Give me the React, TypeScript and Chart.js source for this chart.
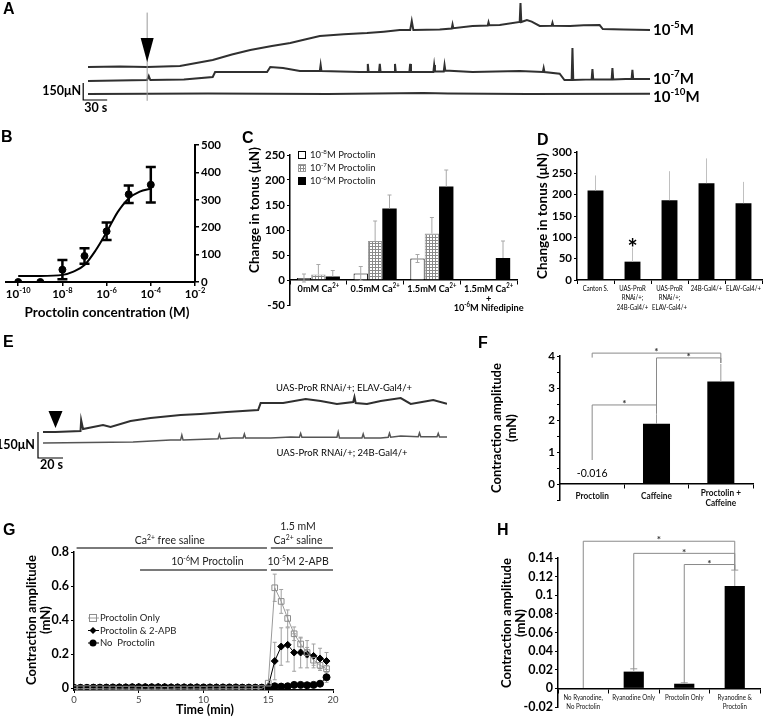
import React, { useEffect, useRef } from 'react';
import { Chart, registerables } from 'chart.js';

Chart.register(...registerables);

const FONT = 'Lato, "Open Sans", "DejaVu Sans", sans-serif';

/* ---------- Panel A: tonus traces (time in s, tonus change in μN) ---------- */
const A_T5 = [0, 40, 74, 115, 156, 180, 203, 230, 253, 270, 290, 320, 349, 370, 390, 403, 405, 407, 440, 455, 456, 457, 481, 500, 501, 502, 515, 540, 541, 542, 549, 555, 565, 580, 581, 582, 603, 620, 640, 644, 670, 703];
const A_V5 = [0, 4, 0, 9, 62, 110, 150, 185, 212, 240, 273, 290, 300, 312, 326, 326, 406, 326, 331, 340, 375, 342, 362, 366, 395, 368, 370, 397, 564, 397, 415, 400, 362, 364, 390, 364, 362, 368, 370, 335, 330, 326];
const A_T7 = [0, 74, 76, 78, 120, 156, 159, 224, 228, 244, 265, 290, 291, 292, 340, 349, 350, 351, 364, 365, 366, 383, 384, 385, 402, 403, 404, 431, 432, 433, 434, 445, 446, 447, 481, 510, 540, 569, 570, 571, 590, 596, 605, 606, 607, 630, 631, 632, 655, 656, 657, 680, 681, 682, 703];
const A_V7 = [-4, 4, 40, 4, 10, 31, 75, 75, 119, 110, 84, 84, 137, 84, 75, 75, 146, 75, 75, 146, 75, 75, 146, 75, 75, 146, 75, 75, 75, 137, 80, 80, 137, 88, 75, 80, 84, 75, 110, 75, 60, 4, 4, 287, 4, 10, 100, 10, 10, 110, 10, 15, 95, 13, 13];
const A_T10 = [0, 150, 300, 420, 450, 550, 703];
const A_V10 = [0, 4, 0, 10, 5, 0, 2];
const A_LABELS = ['10^{-5}M', '10^{-7}M', '10^{-10}M'];
const A_ARROW_T = 74;

/* ---------- Panel B: dose response ---------- */
const B_CONC = [1e-10, 1e-9, 1e-8, 1e-7, 1e-6, 1e-5, 1e-4];
const B_TONUS = [0, 0, 45, 95, 185, 320, 355];
const B_SEM = [0, 0, 35, 28, 32, 32, 65];
const B_FIT_LOGC = [-10, -9, -8, -7.5, -7, -6.5, -6, -5.5, -5, -4.5, -4];
const B_FIT = [22, 22, 26, 38, 62, 115, 182, 255, 305, 330, 340];
const B_XTICKS = [1e-10, 1e-8, 1e-6, 1e-4, 1e-2];
const B_XTICK_LABELS = ['10^{-10}', '10^{-8}', '10^{-6}', '10^{-4}', '10^{-2}'];

/* ---------- Panel C ---------- */
const C_GROUPS = [['0mM Ca^{2+}'], ['0.5mM Ca^{2+}'], ['1.5mM Ca^{2+}'], ['1.5mM Ca^{2+}', '+', '10^{-6}M Nifedipine']];
const C_SERIES = ['10^{-8}M Proctolin', '10^{-7}M Proctolin', '10^{-6}M Proctolin'];
const C_P8 = [4, 13, 43, null];
const C_P8_ERR = [8, 14, 8, 0];
const C_P7 = [11, 78, 93, null];
const C_P7_ERR = [20, 40, 32, 0];
const C_P6 = [7, 143, 187, 44];
const C_P6_ERR = [12, 27, 33, 34];

/* ---------- Panel D ---------- */
const D_GENOTYPES = [['Canton S.'], ['UAS-ProR', 'RNAi/+;', '24B-Gal4/+'], ['UAS-ProR', 'RNAi/+;', 'ELAV-Gal4/+'], ['24B-Gal4/+'], ['ELAV-Gal4/+']];
const D_TONUS = [210, 43, 187, 227, 180];
const D_SEM = [35, 33, 68, 58, 50];
const D_SIGNIF = [false, true, false, false, false];

/* ---------- Panel E: traces ---------- */
const E_T_ELAV = [0, 10, 30, 30.5, 32, 48, 54, 70, 86, 110, 126, 147, 172, 174, 192, 210, 222, 235, 248, 249, 250, 259, 270, 286, 294, 303, 312, 323];
const E_V_ELAV = [0, 0, 6, 69, 17, 40, 29, 63, 81, 98, 104, 115, 127, 167, 167, 190, 179, 162, 173, 202, 167, 162, 179, 196, 162, 173, 185, 162];
const E_T_24B = [0, 72, 102, 110, 111, 112, 140, 141, 142, 152, 160, 161, 162, 182, 198, 205, 206, 207, 235, 236, 237, 255, 256, 257, 270, 276, 277, 278, 286, 300, 301, 302, 315, 316, 317, 323];
const E_V_24B = [0, 6, 17, 17, 46, 17, 25, 50, 25, 29, 29, 52, 29, 29, 35, 33, 55, 33, 33, 63, 29, 29, 52, 29, 29, 33, 56, 33, 40, 36, 58, 36, 36, 55, 35, 35];
const E_LABELS = ['UAS-ProR RNAi/+; ELAV-Gal4/+', 'UAS-ProR RNAi/+; 24B-Gal4/+'];
const E_ARROW_T = 10;

/* ---------- Panel F ---------- */
const F_CONDS = [['Proctolin'], ['Caffeine'], ['Proctolin +', 'Caffeine']];
const F_AMP = [-0.016, 1.88, 3.2];
const F_SEM = [0, 0.3, 0.55];
const F_YTICKS = [-0.5, 0, 0.5, 1, 1.5, 2, 2.5, 3, 3.5, 4];
const F_BRACKETS = [
  { a: 0, b: 2, y: 4.09, ya: 3.95, yb: 3.78 },
  { a: 1, b: 2, y: 3.94, ya: 2.2, yb: 3.78 },
  { a: 0, b: 1, y: 2.47, ya: 0.75, yb: 2.2 },
];

/* ---------- Panel G ---------- */
const G_TIME = [0, 0.5, 1, 1.5, 2, 2.5, 3, 3.5, 4, 4.5, 5, 5.5, 6, 6.5, 7, 7.5, 8, 8.5, 9, 9.5, 10, 10.5, 11, 11.5, 12, 12.5, 13, 13.5, 14, 14.5, 15, 15.5, 16, 16.5, 17, 17.5, 18, 18.5, 19, 19.5];
const G_PROC_ONLY = [-0.002, -0.003, -0.002, -0.003, -0.003, -0.004, -0.004, -0.005, -0.005, -0.004, -0.005, -0.006, -0.005, -0.005, -0.006, -0.005, -0.004, -0.004, -0.005, -0.004, -0.005, -0.004, -0.004, -0.003, -0.004, -0.003, -0.003, -0.003, -0.002, -0.002, 0.03, 0.59, 0.51, 0.41, 0.32, 0.26, 0.21, 0.165, 0.135, 0.115];
const G_PROC_2APB = [0.003, 0.003, 0.004, 0.004, 0.004, 0.005, 0.005, 0.006, 0.006, 0.006, 0.007, 0.007, 0.006, 0.007, 0.007, 0.006, 0.006, 0.006, 0.006, 0.006, 0.005, 0.005, 0.006, 0.005, 0.005, 0.005, 0.004, 0.004, 0.004, 0.004, 0.012, 0.16, 0.245, 0.255, 0.21, 0.21, 0.2, 0.19, 0.175, 0.16];
const G_NO_PROC = [0.003, 0.003, 0.003, 0.004, 0.004, 0.004, 0.005, 0.005, 0.005, 0.006, 0.006, 0.006, 0.006, 0.006, 0.006, 0.005, 0.005, 0.005, 0.005, 0.005, 0.005, 0.005, 0.004, 0.005, 0.005, 0.005, 0.004, 0.004, 0.004, 0.004, 0.004, 0.012, 0.01, 0.012, 0.02, 0.02, 0.018, 0.02, 0.027, 0.065];
const G_PROC_ONLY_ERR = [0, 0.08, 0.07, 0.05, 0.04, 0.035, 0.03, 0.03, 0.03, 0.02];
const G_PROC_2APB_ERR = [0, 0.11, 0.11, 0.1, 0.11, 0.09, 0.08, 0.07, 0.06, 0.05];
const G_NO_PROC_ERR = [0, 0, 0, 0, 0, 0, 0, 0, 0, 0.03];
const G_SERIES = ['Proctolin Only', 'Proctolin & 2-APB', 'No  Proctolin'];
const G_YTICKS = [0, 0.2, 0.4, 0.6, 0.8];

/* ---------- Panel H ---------- */
const H_CONDS = [['No Ryanodine,', 'No Proctolin'], ['Ryanodine Only'], ['Proctolin Only'], ['Ryanodine &', 'Proctolin']];
const H_AMP = [0, 0.018, 0.005, 0.11];
const H_SEM = [0, 0.003, 0.001, 0.017];
const H_YTICKS = [-0.02, 0, 0.02, 0.04, 0.06, 0.08, 0.1, 0.12, 0.14];
const H_BRACKETS = [
  { a: 0, b: 3, y: 0.158, ya: 0.0005, yb: 0.127 },
  { a: 1, b: 3, y: 0.145, ya: 0.021, yb: 0.127 },
  { a: 2, b: 3, y: 0.133, ya: 0.006, yb: 0.127 },
];

/* ---------- text helpers ---------- */
type Seg = { t: string; sup: boolean };
function parseRich(s: string): Seg[] {
  const out: Seg[] = [];
  const re = /\^\{([^}]*)\}/g;
  let last = 0;
  let m: RegExpExecArray | null;
  while ((m = re.exec(s))) {
    if (m.index > last) out.push({ t: s.slice(last, m.index), sup: false });
    out.push({ t: m[1], sup: true });
    last = re.lastIndex;
  }
  if (last < s.length) out.push({ t: s.slice(last), sup: false });
  return out;
}
function drawText(ctx: any, s: string, x: number, y: number, size: number, weight = 'normal', align = 'left', color = '#000', cond = 1) {
  const segs = parseRich(s);
  const ss = Math.round(size * 0.65 * 10) / 10;
  ctx.save();
  let w = 0;
  for (const g of segs) {
    ctx.font = `${weight} ${g.sup ? ss : size}px ${FONT}`;
    w += ctx.measureText(g.t).width * cond;
  }
  let cx = align === 'center' ? x - w / 2 : align === 'right' ? x - w : x;
  ctx.fillStyle = color;
  ctx.textAlign = 'left';
  ctx.textBaseline = 'middle';
  for (const g of segs) {
    ctx.font = `${weight} ${g.sup ? ss : size}px ${FONT}`;
    ctx.save();
    ctx.translate(cx, g.sup ? y - size * 0.33 : y);
    ctx.scale(cond, 1);
    ctx.fillText(g.t, 0, 0);
    ctx.restore();
    cx += ctx.measureText(g.t).width * cond;
  }
  ctx.restore();
}
function drawLines(ctx: any, lines: string[], x: number, y: number, lh: number, size: number, weight = 'normal', color = '#000', cond = 1) {
  lines.forEach((l, i) => drawText(ctx, l, x, y + i * lh, size, weight, 'center', color, cond));
}
function drawRot(ctx: any, s: string, x: number, y: number, size: number, weight = 'bold') {
  ctx.save();
  ctx.translate(x, y);
  ctx.rotate(-Math.PI / 2);
  drawText(ctx, s, 0, 0, size, weight, 'center');
  ctx.restore();
}
function seg(ctx: any, x0: number, y0: number, x1: number, y1: number) {
  ctx.beginPath();
  ctx.moveTo(x0, y0);
  ctx.lineTo(x1, y1);
  ctx.stroke();
}

/* ---------- error bar plugin ---------- */
function drawErr(chart: any, behind: boolean) {
  const ctx = chart.ctx;
  chart.data.datasets.forEach((ds: any, i: number) => {
    if (!ds.err || !!ds.errBehind !== behind) return;
    const meta = chart.getDatasetMeta(i);
    const ys = chart.scales[meta.yAxisID];
    ctx.save();
    ctx.strokeStyle = ds.errColor || '#000';
    ctx.lineWidth = ds.errWidth || 1;
    meta.data.forEach((el: any, j: number) => {
      const raw = ds.data[j];
      const v = raw == null ? null : typeof raw === 'number' ? raw : raw.y;
      const e = ds.err[j];
      if (v == null || !e) return;
      const x = el.x;
      const yt = ys.getPixelForValue(v + e);
      const yb = ys.getPixelForValue(ds.errBoth ? v - e : v);
      const c = (ds.errCap || 0) / 2;
      ctx.beginPath();
      ctx.moveTo(x, yt);
      ctx.lineTo(x, yb);
      if (c) {
        ctx.moveTo(x - c, yt);
        ctx.lineTo(x + c, yt);
        if (ds.errBoth) {
          ctx.moveTo(x - c, yb);
          ctx.lineTo(x + c, yb);
        }
      }
      ctx.stroke();
    });
    ctx.restore();
  });
}
const errPlugin = {
  id: 'errbars',
  beforeDatasetsDraw(chart: any) { drawErr(chart, true); },
  afterDatasetsDraw(chart: any) { drawErr(chart, false); },
};

function drawBrackets(chart: any, list: any[], starSize: number) {
  const { ctx } = chart;
  const xs = chart.scales.x;
  const ys = chart.scales.y;
  ctx.save();
  ctx.strokeStyle = '#8a8a8a';
  ctx.lineWidth = 1;
  list.forEach((b) => {
    const xa = xs.getPixelForValue(b.a);
    const xb = xs.getPixelForValue(b.b);
    const y = ys.getPixelForValue(b.y);
    ctx.beginPath();
    ctx.moveTo(xa, ys.getPixelForValue(b.ya));
    ctx.lineTo(xa, y);
    ctx.lineTo(xb, y);
    ctx.lineTo(xb, ys.getPixelForValue(b.yb));
    ctx.stroke();
    drawText(ctx, '*', (xa + xb) / 2, y - 1, starSize, 'bold', 'center', '#333');
  });
  ctx.restore();
}

/* ---------- shared option pieces ---------- */
const base = {
  responsive: false,
  animation: false,
  devicePixelRatio: 1,
  events: [],
  plugins: { legend: { display: false }, tooltip: { enabled: false }, colors: { enabled: false } },
};
const tickFont = (size: number, weight = 'bold') => ({ family: FONT, size, weight });
const yAxis = (min: number, max: number, step: number, width: number, size = 11, extra: any = {}) => ({
  min,
  max,
  ticks: { stepSize: step, color: '#000', font: tickFont(size), padding: 2, autoSkip: false, ...(extra.ticks || {}) },
  grid: { display: true, drawOnChartArea: false, drawTicks: true, tickLength: 3, color: '#000', lineWidth: 1 },
  border: { display: true, color: '#000', width: 1.5 },
  afterFit: (s: any) => { s.width = width; },
  ...(extra.rest || {}),
});
const catAxis = (extra: any = {}) => ({
  ticks: { display: false },
  grid: { display: true, drawOnChartArea: false, drawTicks: true, tickLength: 4, color: '#000', lineWidth: 1, offset: true },
  border: { display: true, color: '#000', width: 1.5 },
  ...extra,
});
const pts = (ts: number[], vs: number[], off = 0) => ts.map((t, i) => ({ x: t, y: vs[i] + off }));

/* ---------- chart configs ---------- */
const A_OFF = [379, 260, 141];
function makeA() {
  const deco = {
    id: 'decoA',
    afterDraw(chart: any) {
      const { ctx } = chart;
      const xs = chart.scales.x;
      const ys = chart.scales.y;
      const ax = xs.getPixelForValue(A_ARROW_T);
      ctx.save();
      ctx.strokeStyle = '#9a9a9a';
      ctx.lineWidth = 1;
      seg(ctx, ax, ys.getPixelForValue(A_OFF[0] + 480), ax, ys.getPixelForValue(A_OFF[2] - 60));
      const tip = ys.getPixelForValue(A_OFF[0]) - 5;
      ctx.fillStyle = '#000';
      ctx.beginPath();
      ctx.moveTo(ax - 6.5, tip - 24);
      ctx.lineTo(ax + 6.5, tip - 24);
      ctx.lineTo(ax, tip);
      ctx.closePath();
      ctx.fill();
      // scale bar 150 μN / 30 s
      const sx0 = xs.getPixelForValue(-6);
      const sx1 = xs.getPixelForValue(24);
      const sy0 = ys.getPixelForValue(88);
      const sy1 = ys.getPixelForValue(88 + 150);
      ctx.strokeStyle = '#000';
      ctx.lineWidth = 1.2;
      ctx.beginPath();
      ctx.moveTo(sx0, sy1);
      ctx.lineTo(sx0, sy0);
      ctx.lineTo(sx1, sy0);
      ctx.stroke();
      drawText(ctx, '150μN', sx0 - 2, (sy0 + sy1) / 2 - 1, 12.5, 'bold', 'right');
      drawText(ctx, '30 s', sx0 + 1, sy0 + 8, 12.5, 'bold', 'left');
      const ends = [A_V5[A_V5.length - 1] + A_OFF[0], A_V7[A_V7.length - 1] + A_OFF[1], A_V10[A_V10.length - 1] + A_OFF[2]];
      const dy = [0, 0, 3];
      A_LABELS.forEach((l, i) => drawText(ctx, l, chart.chartArea.right + 3, ys.getPixelForValue(ends[i]) + dy[i], 15, 'bold', 'left'));
      ctx.restore();
    },
  };
  const line = { pointRadius: 0, borderColor: '#303030', borderWidth: 2, tension: 0 };
  return {
    type: 'line',
    data: {
      datasets: [
        { data: pts(A_T5, A_V5, A_OFF[0]), ...line },
        { data: pts(A_T7, A_V7, A_OFF[1]), ...line },
        { data: pts(A_T10, A_V10, A_OFF[2]), ...line },
      ],
    },
    options: {
      ...base,
      layout: { padding: { left: 88, right: 113, top: 0, bottom: 5 } },
      scales: { x: { type: 'linear', display: false, min: 0, max: 703 }, y: { display: false, min: 0, max: 970 } },
    },
    plugins: [deco],
  };
}

function makeB() {
  const deco = {
    id: 'decoB',
    afterDraw(chart: any) {
      const { ctx } = chart;
      const xs = chart.scales.x;
      B_XTICKS.forEach((v, i) => drawText(ctx, B_XTICK_LABELS[i], xs.getPixelForValue(v), chart.chartArea.bottom + 12, 11.5, 'bold', 'center'));
      drawText(ctx, 'Proctolin concentration (M)', 107, 193, 13.5, 'bold', 'center');
    },
  };
  return {
    type: 'scatter',
    data: {
      datasets: [
        {
          data: B_CONC.map((c, i) => ({ x: c, y: B_TONUS[i] })),
          pointRadius: 3.5, pointBackgroundColor: '#000', pointBorderColor: '#000', showLine: false,
          err: B_SEM, errBoth: true, errColor: '#000', errWidth: 2.5, errCap: 10,
        },
        {
          data: B_FIT_LOGC.map((e, i) => ({ x: Math.pow(10, e), y: B_FIT[i] })),
          showLine: true, pointRadius: 0, borderColor: '#000', borderWidth: 2, cubicInterpolationMode: 'monotone',
        },
      ],
    },
    options: {
      ...base,
      layout: { padding: { left: 6, top: 25, right: 0, bottom: 0 } },
      scales: {
        x: {
          type: 'logarithmic', min: 2.8e-11, max: 1e-2,
          afterBuildTicks: (s: any) => { s.ticks = B_XTICKS.map((v) => ({ value: v, major: true })); },
          ticks: { display: false },
          grid: { drawOnChartArea: false, drawTicks: true, tickLength: 4, color: '#000', lineWidth: 1.5 },
          border: { display: true, color: '#000', width: 2 },
          afterFit: (s: any) => { s.height = 48; },
        },
        y: {
          position: 'right', min: 0, max: 500,
          ticks: { stepSize: 100, color: '#000', font: tickFont(11.5), padding: 2 },
          grid: { drawOnChartArea: false, drawTicks: true, tickLength: 4, color: '#000', lineWidth: 1.5 },
          border: { display: true, color: '#000', width: 2 },
          afterFit: (s: any) => { s.width = 50; },
        },
      },
    },
    plugins: [errPlugin, deco],
  };
}

function makeC() {
  const tile = document.createElement('canvas');
  tile.width = 3;
  tile.height = 3;
  const tc = tile.getContext('2d')!;
  tc.fillStyle = '#fff';
  tc.fillRect(0, 0, 3, 3);
  tc.fillStyle = '#8a8a8a';
  tc.fillRect(0, 0, 3, 1);
  tc.fillRect(0, 0, 1, 3);
  const hatch = tc.createPattern(tile, 'repeat');
  const fills = ['#fff', hatch, '#000'];
  const borders = ['#000', '#9a9a9a', '#000'];
  const deco = {
    id: 'decoC',
    afterDraw(chart: any) {
      const { ctx } = chart;
      const xs = chart.scales.x;
      const ys = chart.scales.y;
      const y0 = ys.getPixelForValue(0);
      C_GROUPS.forEach((g, i) => drawLines(ctx, g, xs.getPixelForValue(i), y0 + 9, 9.5, 10, 'bold', '#000', 0.92));
      drawRot(ctx, 'Change in tonus (μN)', 15, 90, 13.5, 'bold');
      C_SERIES.forEach((s, i) => {
        const y = 35 + i * 13;
        ctx.save();
        ctx.fillStyle = fills[i];
        ctx.fillRect(58, y - 4, 8, 8);
        ctx.strokeStyle = borders[i];
        ctx.lineWidth = 1;
        ctx.strokeRect(58.5, y - 3.5, 7, 7);
        ctx.restore();
        drawText(ctx, s, 70, y, 10, 'normal', 'left', '#222', 0.95);
      });
    },
  };
  const common = { categoryPercentage: 0.76, barPercentage: 1, errColor: '#a8a8a8', errWidth: 1, errCap: 4 };
  return {
    type: 'bar',
    data: {
      labels: C_GROUPS.map((g) => g.join(' ')),
      datasets: [
        { data: C_P8, err: C_P8_ERR, errBoth: true, backgroundColor: fills[0], borderColor: borders[0], borderWidth: 1, ...common },
        { data: C_P7, err: C_P7_ERR, errBoth: false, backgroundColor: fills[1], borderColor: borders[1], borderWidth: 1, ...common },
        { data: C_P6, err: C_P6_ERR, errBoth: false, backgroundColor: fills[2], borderColor: '#000', borderWidth: 0, ...common },
      ],
    },
    options: {
      ...base,
      layout: { padding: { left: 0, top: 35, right: 13, bottom: 25 } },
      scales: {
        x: catAxis({ position: { y: 0 } }),
        y: yAxis(-50, 250, 50, 50, 11.5),
      },
    },
    plugins: [errPlugin, deco],
  };
}

function makeD() {
  const deco = {
    id: 'decoD',
    afterDraw(chart: any) {
      const { ctx } = chart;
      const xs = chart.scales.x;
      const ys = chart.scales.y;
      D_GENOTYPES.forEach((g, i) => drawLines(ctx, g, xs.getPixelForValue(i), chart.chartArea.bottom + 8.5, 9.5, 7.5, 'normal', '#000', 0.8));
      drawRot(ctx, 'Change in tonus (μN)', 43, 96, 13.5, 'bold');
      D_SIGNIF.forEach((s, i) => {
        if (!s) return;
        drawText(ctx, '*', xs.getPixelForValue(i), ys.getPixelForValue(D_TONUS[i] + D_SEM[i]) + 2, 24, 'bold', 'center');
      });
    },
  };
  return {
    type: 'bar',
    data: {
      labels: D_GENOTYPES.map((g) => g.join(' ')),
      datasets: [
        { data: D_TONUS, err: D_SEM, errColor: '#c0c0c0', errWidth: 1, backgroundColor: '#000', barPercentage: 0.43, categoryPercentage: 1 },
      ],
    },
    options: {
      ...base,
      layout: { padding: { left: 0, top: 32, right: 1, bottom: 0 } },
      scales: {
        x: catAxis({ afterFit: (s: any) => { s.height = 50; } }),
        y: yAxis(0, 300, 50, 77, 11.5),
      },
    },
    plugins: [errPlugin, deco],
  };
}

const E_OFF = [161.6, 98];
function makeE() {
  const deco = {
    id: 'decoE',
    afterDraw(chart: any) {
      const { ctx } = chart;
      const xs = chart.scales.x;
      const ys = chart.scales.y;
      const ax = xs.getPixelForValue(E_ARROW_T);
      const tip = ys.getPixelForValue(E_OFF[0]) - 4;
      ctx.save();
      ctx.fillStyle = '#000';
      ctx.beginPath();
      ctx.moveTo(ax - 7, tip - 17);
      ctx.lineTo(ax + 7, tip - 17);
      ctx.lineTo(ax, tip);
      ctx.closePath();
      ctx.fill();
      const sx0 = xs.getPixelForValue(-4);
      const sx1 = xs.getPixelForValue(16);
      const sy0 = ys.getPixelForValue(11.5);
      const sy1 = ys.getPixelForValue(11.5 + 150);
      ctx.strokeStyle = '#000';
      ctx.lineWidth = 1.2;
      ctx.beginPath();
      ctx.moveTo(sx0, sy1);
      ctx.lineTo(sx0, sy0);
      ctx.lineTo(sx1, sy0);
      ctx.stroke();
      ctx.restore();
      drawText(ctx, '150μN', sx0 - 3, (sy0 + sy1) / 2, 12.5, 'bold', 'right');
      drawText(ctx, '20 s', sx0 + 2, sy0 + 7, 12.5, 'bold', 'left');
      drawText(ctx, E_LABELS[0], 344, 58, 10, 'normal', 'center', '#000', 0.95);
      drawText(ctx, E_LABELS[1], 342, 123, 10, 'normal', 'center', '#000', 0.95);
    },
  };
  const line = { pointRadius: 0, borderColor: '#303030', borderWidth: 2, tension: 0 };
  return {
    type: 'line',
    data: {
      datasets: [
        { data: pts(E_T_ELAV, E_V_ELAV, E_OFF[0]), ...line },
        { data: pts(E_T_24B, E_V_24B, E_OFF[1]), ...line, borderColor: '#555', borderWidth: 1.5 },
      ],
    },
    options: {
      ...base,
      layout: { padding: { left: 43, right: 33, top: 0, bottom: 10 } },
      scales: { x: { type: 'linear', display: false, min: 0, max: 323 }, y: { display: false, min: 0, max: 750 } },
    },
    plugins: [deco],
  };
}

function makeF() {
  const deco = {
    id: 'decoF',
    afterDraw(chart: any) {
      const { ctx } = chart;
      const xs = chart.scales.x;
      const ys = chart.scales.y;
      const y0 = ys.getPixelForValue(0);
      F_CONDS.forEach((g, i) => {
        const yy = g.length > 1 ? y0 + 9.5 : y0 + 12;
        drawLines(ctx, g, xs.getPixelForValue(i), yy, 10, 9, 'bold', '#111', 0.92);
      });
      drawText(ctx, F_AMP[0].toString(), xs.getPixelForValue(0), y0 - 10, 10.5, 'normal', 'center');
      drawRot(ctx, 'Contraction amplitude', 17, 98, 13, 'bold');
      drawRot(ctx, '(mN)', 32, 98, 13, 'bold');
      drawBrackets(chart, F_BRACKETS, 10);
    },
  };
  return {
    type: 'bar',
    data: {
      labels: F_CONDS.map((g) => g.join(' ')),
      datasets: [
        { data: F_AMP, err: F_SEM, errColor: '#9a9a9a', errWidth: 1, backgroundColor: '#000', barPercentage: 0.42, categoryPercentage: 1 },
      ],
    },
    options: {
      ...base,
      layout: { padding: { left: 0, top: 26, right: 10, bottom: 10 } },
      scales: {
        x: catAxis({ position: { y: 0 } }),
        y: yAxis(-0.5, 4, 0.5, 80, 11.5, {
          ticks: { callback: (v: number) => (Math.abs(v - Math.round(v)) < 1e-9 ? String(Math.round(v)) : '') },
          rest: { afterBuildTicks: (s: any) => { s.ticks = F_YTICKS.map((v) => ({ value: v })); } },
        }),
      },
    },
    plugins: [errPlugin, deco],
  };
}

function makeG() {
  const errOf = (tail: number[]) => G_TIME.map((_, i) => (i >= 30 ? tail[i - 30] : 0));
  const deco = {
    id: 'decoG',
    afterDraw(chart: any) {
      const { ctx } = chart;
      const xs = chart.scales.x;
      ctx.save();
      ctx.strokeStyle = '#7a7a7a';
      ctx.lineWidth = 2;
      seg(ctx, xs.getPixelForValue(0.2), 38, xs.getPixelForValue(14.9), 38);
      seg(ctx, xs.getPixelForValue(15.2), 38, xs.getPixelForValue(20), 38);
      seg(ctx, xs.getPixelForValue(5.1), 60, xs.getPixelForValue(14.9), 60);
      seg(ctx, xs.getPixelForValue(15.2), 60, xs.getPixelForValue(20), 60);
      ctx.restore();
      drawText(ctx, '1.5 mM', xs.getPixelForValue(17.3), 17, 10.5, 'normal', 'center', '#222');
      drawText(ctx, 'Ca^{2+} saline', xs.getPixelForValue(17.3), 31, 10.5, 'normal', 'center', '#222');
      drawText(ctx, 'Ca^{2+} free saline', xs.getPixelForValue(7.4), 31, 10.5, 'normal', 'center', '#222');
      drawText(ctx, '10^{-6}M Proctolin', xs.getPixelForValue(10.3), 52, 10.5, 'normal', 'center', '#222');
      drawText(ctx, '10^{-5}M 2-APB', xs.getPixelForValue(17.3), 52, 10.5, 'normal', 'center', '#222');
      // legend
      G_SERIES.forEach((s, i) => {
        const y = 108 + i * 12.5;
        ctx.save();
        ctx.strokeStyle = i === 0 ? '#9a9a9a' : '#000';
        ctx.lineWidth = 1;
        seg(ctx, 88, y, 99, y);
        if (i === 0) {
          ctx.strokeStyle = '#8c8c8c';
          ctx.strokeRect(89.5, y - 3.5, 7, 7);
        } else if (i === 1) {
          ctx.fillStyle = '#000';
          ctx.beginPath();
          ctx.moveTo(93, y - 3.5);
          ctx.lineTo(96.5, y);
          ctx.lineTo(93, y + 3.5);
          ctx.lineTo(89.5, y);
          ctx.closePath();
          ctx.fill();
        } else {
          ctx.fillStyle = '#000';
          ctx.beginPath();
          ctx.arc(93, y, 3.5, 0, Math.PI * 2);
          ctx.fill();
        }
        ctx.restore();
        drawText(ctx, s, 100, y, 9.5, 'normal', 'left', '#222');
      });
      drawRot(ctx, 'Contraction amplitude', 32, 110, 13, 'bold');
      drawRot(ctx, '(mN)', 46, 110, 13, 'bold');
      drawText(ctx, 'Time (min)', 205, 200, 12.5, 'bold', 'center');
    },
  };
  const common = { showLine: true, borderWidth: 1, errBehind: true, errBoth: true, errColor: '#a0a0a0', errWidth: 1, errCap: 4 };
  return {
    type: 'scatter',
    data: {
      datasets: [
        {
          data: pts(G_TIME, G_PROC_ONLY), err: errOf(G_PROC_ONLY_ERR), ...common,
          borderColor: '#9a9a9a', pointStyle: 'rect', pointRadius: 4, pointBackgroundColor: 'rgba(0,0,0,0)', pointBorderColor: '#8c8c8c', pointBorderWidth: 1,
        },
        {
          data: pts(G_TIME, G_PROC_2APB), err: errOf(G_PROC_2APB_ERR), ...common,
          borderColor: '#000', pointStyle: 'rectRot', pointRadius: 3.5, pointBackgroundColor: '#000', pointBorderColor: '#000',
        },
        {
          data: pts(G_TIME, G_NO_PROC), err: errOf(G_NO_PROC_ERR), ...common,
          borderColor: '#000', pointStyle: 'circle', pointRadius: 3.5, pointBackgroundColor: '#000', pointBorderColor: '#000',
        },
      ],
    },
    options: {
      ...base,
      layout: { padding: { left: 0, top: 42, right: 37, bottom: 0 } },
      scales: {
        x: {
          type: 'linear', min: 0, max: 20,
          ticks: { stepSize: 5, color: '#444', font: tickFont(9.5, 'normal'), padding: 1 },
          grid: { drawOnChartArea: false, drawTicks: true, tickLength: 3, color: '#000' },
          border: { display: true, color: '#000', width: 1.5 },
          afterFit: (s: any) => { s.height = 27; },
        },
        y: {
          min: -0.01, max: 0.8,
          afterBuildTicks: (s: any) => { s.ticks = G_YTICKS.map((v) => ({ value: v })); },
          ticks: { color: '#000', font: tickFont(12.5), padding: 2, autoSkip: false, callback: (v: number) => (v === 0 ? '0' : v.toFixed(1)) },
          grid: { drawOnChartArea: false, drawTicks: true, tickLength: 3, color: '#000' },
          border: { display: true, color: '#000', width: 1.5 },
          afterFit: (s: any) => { s.width = 74; },
        },
      },
    },
    plugins: [errPlugin, deco],
  };
}

function makeH() {
  const deco = {
    id: 'decoH',
    afterDraw(chart: any) {
      const { ctx } = chart;
      const xs = chart.scales.x;
      const ys = chart.scales.y;
      const y0 = ys.getPixelForValue(0);
      H_CONDS.forEach((g, i) => drawLines(ctx, g, xs.getPixelForValue(i), y0 + 9, 9, 7.5, 'normal', '#111', 0.82));
      drawRot(ctx, 'Contraction amplitude', 17, 113, 13, 'bold');
      drawRot(ctx, '(mN)', 31, 113, 13, 'bold');
      drawBrackets(chart, H_BRACKETS, 10);
    },
  };
  return {
    type: 'bar',
    data: {
      labels: H_CONDS.map((g) => g.join(' ')),
      datasets: [
        { data: H_AMP, err: H_SEM, errColor: '#9a9a9a', errWidth: 1, errCap: 7, backgroundColor: '#000', barPercentage: 0.4, categoryPercentage: 1 },
      ],
    },
    options: {
      ...base,
      layout: { padding: { left: 0, top: 48, right: 3, bottom: 10 } },
      scales: {
        x: catAxis({ position: { y: 0 } }),
        y: {
          min: -0.02, max: 0.14,
          afterBuildTicks: (s: any) => { s.ticks = H_YTICKS.map((v) => ({ value: v })); },
          ticks: { color: '#000', font: tickFont(12.5), padding: 2, autoSkip: false, callback: (v: number) => String(Number(v.toFixed(2))) },
          grid: { drawOnChartArea: false, drawTicks: true, tickLength: 3, color: '#000' },
          border: { display: true, color: '#000', width: 1.5 },
          afterFit: (s: any) => { s.width = 68; },
        },
      },
    },
    plugins: [errPlugin, deco],
  };
}

function Panel({ left, top, width, height, make }: { left: number; top: number; width: number; height: number; make: () => any }) {
  const ref = useRef<HTMLCanvasElement>(null);
  useEffect(() => {
    const chart = new Chart(ref.current as HTMLCanvasElement, make());
    return () => chart.destroy();
  }, []);
  return <canvas ref={ref} width={width} height={height} style={{ position: 'absolute', left, top, width, height }} />;
}

const LETTERS: [string, number, number][] = [
  ['A', 3, 1], ['B', 1, 129], ['C', 242, 130], ['D', 537, 132],
  ['E', 3, 334], ['F', 478, 335], ['G', 3, 522], ['H', 497, 522],
];

export default function App() {
  return (
    <div style={{ position: 'absolute', left: 0, top: 0, width: 763, height: 717, background: '#fff', overflow: 'hidden' }}>
      <Panel left={0} top={0} width={763} height={115} make={makeA} />
      <Panel left={0} top={120} width={245} height={210} make={makeB} />
      <Panel left={240} top={120} width={290} height={210} make={makeC} />
      <Panel left={500} top={120} width={263} height={210} make={makeD} />
      <Panel left={0} top={330} width={480} height={140} make={makeE} />
      <Panel left={480} top={330} width={283} height={180} make={makeF} />
      <Panel left={0} top={510} width={370} height={207} make={makeG} />
      <Panel left={490} top={510} width={273} height={207} make={makeH} />
      {LETTERS.map(([l, x, y]) => (
        <div key={l} style={{ position: 'absolute', left: x, top: y, font: 'bold 16px "Liberation Sans", Arial, sans-serif', lineHeight: '16px', color: '#000' }}>{l}</div>
      ))}
    </div>
  );
}
